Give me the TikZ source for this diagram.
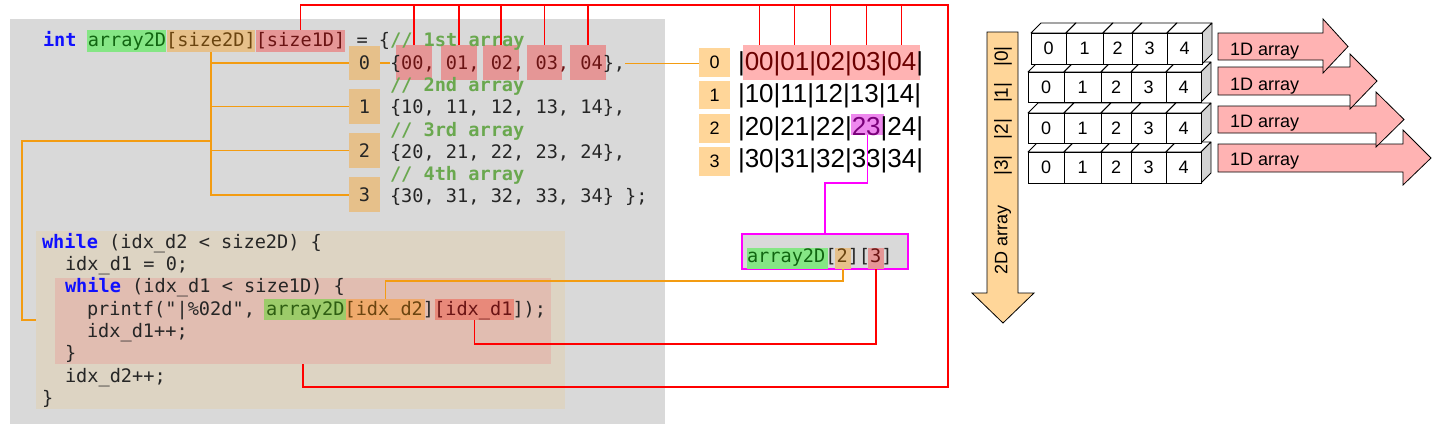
\documentclass[tikz,border=0pt]{standalone}
\usepackage{fontspec}
\newfontfamily\codefont{DejaVu Sans Mono}
\newfontfamily\sansf{Liberation Sans}
\definecolor{bggray}{HTML}{D9D9D9}
\definecolor{outerc}{HTML}{DDD4C3}
\definecolor{innerc}{HTML}{E1BDB1}
\definecolor{hlgreen}{HTML}{85E685}
\definecolor{hltan}{HTML}{E6C08A}
\definecolor{hlred}{HTML}{E59696}
\definecolor{pgreen}{HTML}{9CCB6A}
\definecolor{porange}{HTML}{EFAA6C}
\definecolor{pred}{HTML}{E8897A}
\definecolor{kwblue}{HTML}{1010FF}
\definecolor{cmtgreen}{HTML}{6AA84F}
\definecolor{codeblk}{HTML}{262626}
\definecolor{tgreen}{HTML}{116611}
\definecolor{tgreentwo}{HTML}{2E5E12}
\definecolor{tbrown}{HTML}{6B4510}
\definecolor{tred}{HTML}{6B1414}
\definecolor{orlc}{HTML}{F39C12}
\definecolor{magl}{HTML}{FF00FF}
\definecolor{ridxc}{HTML}{FFD699}
\definecolor{rtred}{HTML}{FFB3B3}
\definecolor{rtredt}{HTML}{6B0000}
\definecolor{maghl}{HTML}{EE88EE}
\definecolor{magt}{HTML}{7A007A}
\definecolor{arrpink}{HTML}{FFB3B3}
\definecolor{cubeside}{HTML}{D3D3D3}
\newcommand\kw[1]{{\bfseries\color{kwblue}#1}}
\newcommand\cm[1]{{\bfseries\color{cmtgreen}#1}}
\tikzset{
  codetxt/.style={font={\codefont\fontsize{18.6}{22}\selectfont}, anchor=base west, inner sep=0pt, outer sep=0pt, text=codeblk},
  hlbox/.style={inner sep=0pt, outer sep=0pt, draw=none, anchor=north west},
  idxbox/.style={hlbox, fill=hltan, font={\codefont\fontsize{18.6}{22}\selectfont}, text=codeblk},
  ridx/.style={hlbox, fill=ridxc, font={\sansf\fontsize{18}{20}\selectfont}},
  rtxt/.style={font={\sansf\fontsize{26}{28}\selectfont}, anchor=base west, inner sep=0pt, outer sep=0pt},
  orl/.style={draw=orlc, line width=1.3pt},
  redl/.style={draw=red, line width=1.1pt},
  magline/.style={draw=magl, line width=1.3pt},
  cubeline/.style={draw=black, line width=0.8pt, line join=round},
  cubefront/.style={draw=black, fill=white, line width=0.8pt, inner sep=0pt, outer sep=0pt, anchor=north west, font={\sansf\fontsize{18}{20}\selectfont}},
  bigarrow/.style={draw=black, line width=0.8pt},
  alabel/.style={font={\sansf\fontsize{18}{20}\selectfont}, anchor=base west, inner sep=0pt},
}
\newcommand\hlr[6]{\node[hlbox, fill=#6, minimum width={#4-#2}, minimum height={#5-#3}] (#1) at (#2,#3) {};}
\newcommand\cubeA[6]{%
  \filldraw[cubeline, fill=white] (#2,#4) -- (#2+10,#4-10) -- (#3+10,#4-10) -- (#3,#4) -- cycle;
  \filldraw[cubeline, fill=cubeside] (#3,#4) -- (#3+10,#4-10) -- (#3+10,#5-10) -- (#3,#5) -- cycle;
  \node[cubefront, minimum width={#3-#2}, minimum height={#5-#4}] (#1) at (#2,#4) {#6};}
\newcommand\cuberow[9]{%
  \cubeA{#1-0}{#4}{#5}{#2}{#3}{0}
  \cubeA{#1-1}{#5}{#6}{#2}{#3}{1}
  \cubeA{#1-2}{#6}{#7}{#2}{#3}{2}
  \cubeA{#1-3}{#7}{#8}{#2}{#3}{3}
  \cubeA{#1-4}{#8}{#9}{#2}{#3}{4}}
\begin{document}
\begin{tikzpicture}[x=1pt,y=-1pt]
\useasboundingbox (0,0) rectangle (1446,440);
% ---------- code backgrounds
\fill[bggray] (10,19) rectangle (665,424);
\node[hlbox, fill=outerc, minimum width=529, minimum height=178] (outer) at (36,231) {};
\node[hlbox, fill=innerc, minimum width=496, minimum height=86] (inner) at (55,278) {};
% ---------- highlights
\hlr{hA}{87}{30}{166}{52}{hlgreen}
\hlr{hS2}{167}{30}{255}{52}{hltan}
\hlr{hS1}{256}{30}{345}{52}{hlred}
\hlr{b00}{396}{45}{432}{80}{hlred}
\hlr{b01}{441}{45}{477}{80}{hlred}
\hlr{b02}{483}{45}{519}{80}{hlred}
\hlr{b03}{527}{45}{562}{80}{hlred}
\hlr{b04}{570}{45}{606}{80}{hlred}
\hlr{pA}{264}{299}{346}{320}{pgreen}
\hlr{pB}{346}{299}{425}{320}{porange}
\hlr{pC}{435}{299}{514}{320}{pred}
% ---------- orange connectors (left)
\coordinate (brY) at (0,141);
\coordinate (lx) at (22,320);
\draw[orl] (hS2.south) |- (349,195);
\draw[orl] (hS2.south |- brY) -| (lx) -- (lx -| outer.west);
% ---------- index boxes (code)
\node[idxbox, minimum width=31, minimum height=34] (ix0) at (349,46) {0};
\node[idxbox, minimum width=31, minimum height=35] (ix1) at (349,89) {1};
\node[idxbox, minimum width=31, minimum height=35] (ix2) at (349,133) {2};
\node[idxbox, minimum width=31, minimum height=35] (ix3) at (349,177) {3};
\foreach \n in {ix0,ix1,ix2,ix3} \draw[orl] (hS2.south |- \n.west) -- (\n.west);
% ---------- code text
\node[codetxt] (L1) at (43,46) {\kw{int} {\color{tgreen}array2D}{\color{tbrown}[size2D]}{\color{tred}[size1D]} = \{\cm{// 1st array}};
\node[codetxt] (L2) at (390,69) {\{{\color{tred}00, 01, 02, 03, 04}\},};
\node[codetxt] (L3) at (390,91) {\cm{// 2nd array}};
\node[codetxt] (L4) at (390,113) {\{10, 11, 12, 13, 14\},};
\node[codetxt] (L5) at (390,136) {\cm{// 3rd array}};
\node[codetxt] (L6) at (390,158) {\{20, 21, 22, 23, 24\},};
\node[codetxt] (L7) at (390,180) {\cm{// 4th array}};
\node[codetxt] (L8) at (390,202) {\{30, 31, 32, 33, 34\} \};};
\draw[orl] (ix0.east) -- (ix0.east -| L2.west);
\node[codetxt] (B1) at (42,248) {\kw{while} (idx\_d2 < size2D) \{};
\node[codetxt] (B2) at (65,270) {idx\_d1 = 0;};
\node[codetxt] (B3) at (65,292) {\kw{while} (idx\_d1 < size1D) \{};
\node[codetxt] (B4) at (87,315) {printf("|\%02d", {\color{tgreentwo}array2D}{\color{tbrown}[idx\_d2}]{\color{tred}[idx\_d1}]);};
\node[codetxt] (B5) at (87,337) {idx\_d1++;};
\node[codetxt] (B6) at (65,359) {\}};
\node[codetxt] (B7) at (65,382) {idx\_d2++;};
\node[codetxt] (B8) at (42,404) {\}};
% ---------- right table
\hlr{rhl}{743}{45}{920}{80}{rtred}
\hlr{r23}{851}{114}{884}{135}{maghl}
\node[ridx, minimum width=31, minimum height=29] (ri0) at (699,48) {0};
\node[ridx, minimum width=31, minimum height=28] (ri1) at (699,81) {1};
\node[ridx, minimum width=31, minimum height=29] (ri2) at (699,114) {2};
\node[ridx, minimum width=31, minimum height=29] (ri3) at (699,147) {3};
\node[rtxt] (R0) at (738,70) {|{\color{rtredt}00|01|02|03|04}|};
\node[rtxt] (R1) at (738,102) {|10|11|12|13|14|};
\node[rtxt] (R2) at (738,135) {|20|21|22|{\color{magt}23}|24|};
\node[rtxt] (R3) at (738,167) {|30|31|32|33|34|};
\draw[orl] (L2.east) -- (L2.east -| ri0.west);
% ---------- magenta box
\node[hlbox, fill=bggray, draw=magl, line width=1.2pt, minimum width=166, minimum height=35] (mbox) at (742,234) {};
\hlr{mA}{747}{248}{828}{269}{hlgreen}
\hlr{m2}{835}{248}{851}{269}{hltan}
\hlr{m3}{868}{248}{884}{269}{hlred}
\node[codetxt] (mtxt) at (747,262) {{\color{tgreen}array2D}[{\color{tbrown}2}][{\color{tred}3}]};
\coordinate (mc) at (0,183);
\draw[magline] (r23.south) -- (r23.south |- mc) -| (mbox.north);
\coordinate (oc) at (0,281);
\draw[orl] (m2.south) -- (m2.south |- oc) -| (pB.north);
\coordinate (rc) at (0,344);
\draw[redl] (m3.south) -- (m3.south |- rc) -| (pC.south);
% ---------- red frame
\coordinate (rtr) at (948,5);
\coordinate (rbl) at (303,387);
\draw[redl] (hS1.north) |- (rtr) |- (rbl) -- (rbl |- inner.south);
\foreach \n in {b00,b01,b02,b03,b04} \draw[redl] (\n.north) -- (\n.north |- rtr);
\coordinate (t0) at (759.2,45);
\coordinate (t1) at (794.9,45);
\coordinate (t2) at (830.6,45);
\coordinate (t3) at (866.2,45);
\coordinate (t4) at (901.9,45);
\foreach \n in {t0,t1,t2,t3,t4} \draw[redl] (\n) -- (\n |- rtr);
% ---------- 2D arrow
\filldraw[bigarrow, fill=ridxc] (987,32) -- (1018,32) -- (1018,293) -- (1034,293) -- (1003,323) -- (972,293) -- (987,293) -- cycle;
\node[rotate=90, font={\sansf\fontsize{19}{20}\selectfont}] (vlab) at (1003,111) {|3|\hspace{16pt}|2|\hspace{16pt}|1|\hspace{16pt}|0|};
\node[rotate=90, font={\sansf\fontsize{18}{20}\selectfont}] (vlab2) at (1003,240) {2D array};
% ---------- cubes
\cuberow{c3}{152}{183}{1028}{1064}{1101}{1131}{1166}{1201}
\cuberow{c2}{113}{143}{1028}{1064}{1101}{1131}{1166}{1201}
\cuberow{c1}{72}{102}{1028}{1064}{1101}{1131}{1166}{1201}
\cuberow{c0}{33}{64}{1031}{1066}{1103}{1132}{1167}{1202}
% ---------- 1D arrows
\filldraw[bigarrow, fill=arrpink] (1218,144) -- (1403,144) -- (1403,130) -- (1431,158) -- (1403,185) -- (1403,172) -- (1218,172) -- cycle;
\filldraw[bigarrow, fill=arrpink] (1218,106) -- (1376,106) -- (1376,92) -- (1404,119.5) -- (1376,147) -- (1376,133) -- (1218,133) -- cycle;
\filldraw[bigarrow, fill=arrpink] (1218,67) -- (1350,67) -- (1350,54) -- (1377,81) -- (1350,109) -- (1350,95) -- (1218,95) -- cycle;
\filldraw[bigarrow, fill=arrpink] (1218,33) -- (1323,33) -- (1323,19) -- (1348,46.5) -- (1323,73) -- (1323,60) -- (1218,60) -- cycle;
\node[alabel] (a0) at (1230,55) {1D array};
\node[alabel] (a1) at (1230,90) {1D array};
\node[alabel] (a2) at (1230,127) {1D array};
\node[alabel] (a3) at (1230,165) {1D array};
\end{tikzpicture}
\end{document}
